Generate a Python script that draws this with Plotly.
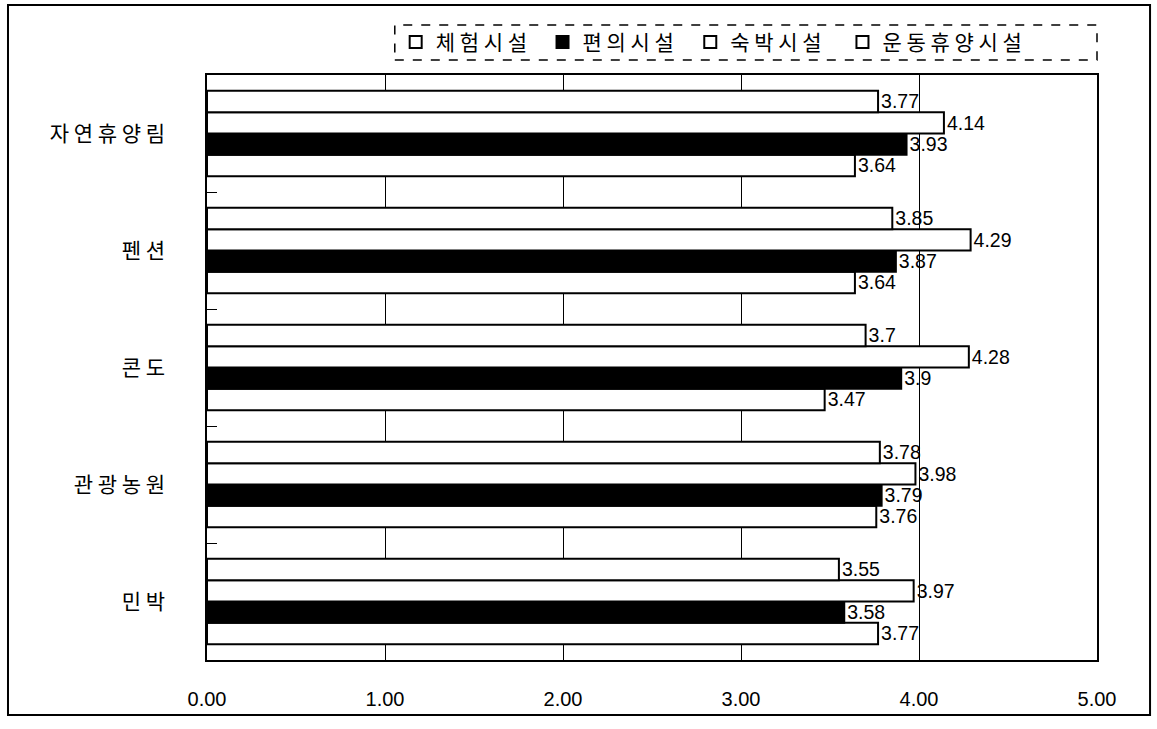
import plotly.graph_objects as go

categories = ["자 연 휴 양 림", "펜 션", "콘 도", "관 광 농 원", "민 박"]
series_names = ["체 험 시 설", "편 의 시 설", "숙 박 시 설", "운 동 휴 양 시 설"]
experience = [3.64, 3.64, 3.47, 3.76, 3.77]
convenience = [3.93, 3.87, 3.90, 3.79, 3.58]
lodging = [4.14, 4.29, 4.28, 3.98, 3.97]
sports = [3.77, 3.85, 3.70, 3.78, 3.55]
tick_vals = [0, 1, 2, 3, 4, 5]
tick_text = ["0.00", "1.00", "2.00", "3.00", "4.00", "5.00"]

series_values = [experience, convenience, lodging, sports]
fills = ["white", "black", "white", "white"]
legend_ids = ["legend", "legend2", "legend3", "legend4"]
legend_x = [0.212, 0.377, 0.543, 0.714]

font_fam = "Noto Sans CJK KR, Noto Sans, Arial"
fig = go.Figure()
for name, vals, fill, lid in zip(series_names, series_values, fills, legend_ids):
    fig.add_trace(go.Bar(
        y=categories, x=vals, name=name, orientation="h",
        marker=dict(color=fill, line=dict(color="black", width=2)),
        text=[f"{v:g}" for v in vals], textposition="outside",
        textfont=dict(size=21, color="black", family="Arial"),
        cliponaxis=False, legend=lid,
    ))

legend_common = dict(orientation="h", y=1.056, yanchor="middle", xanchor="left",
                     font=dict(size=21, family=font_fam),
                     bgcolor="rgba(0,0,0,0)", itemwidth=30)
legends = {lid: dict(x=lx, **legend_common) for lid, lx in zip(legend_ids, legend_x)}

fig.update_layout(
    width=1157, height=729,
    barmode="group", bargap=0.27, bargroupgap=0,
    plot_bgcolor="white", paper_bgcolor="white",
    margin=dict(l=207, r=60, t=75, b=69),
    font=dict(family=font_fam, color="black"),
    showlegend=True,
    xaxis=dict(range=[0, 5], tickvals=tick_vals, ticktext=tick_text,
               showgrid=True, gridcolor="black", gridwidth=1,
               showline=True, linecolor="black", linewidth=1.5, mirror=True,
               ticks="", zeroline=False, automargin=False,
               tickfont=dict(size=20, family="Arial"), ticklabelstandoff=20),
    yaxis=dict(categoryorder="array", categoryarray=categories[::-1],
               showline=True, linecolor="black", linewidth=1.5, mirror=True,
               ticks="inside", tickson="boundaries", ticklen=10, tickcolor="black",
               showgrid=False, tickfont=dict(size=21, family=font_fam),
               ticklabelstandoff=36, automargin=False),
    **legends,
)

# outer frame
fig.add_shape(type="rect", xref="paper", yref="paper",
              x0=-0.2236, x1=1.0596, y0=-0.094, y1=1.1197,
              line=dict(color="black", width=2), layer="below")
# legend dashed box
fig.add_shape(type="rect", xref="paper", yref="paper",
              x0=0.211, x1=1.0, y0=1.0256, y1=1.0855,
              line=dict(color="black", width=1.5, dash="dash"))

fig.write_html("out.html", config={"displayModeBar": False},
               post_script="document.body.style.margin='0px';")
